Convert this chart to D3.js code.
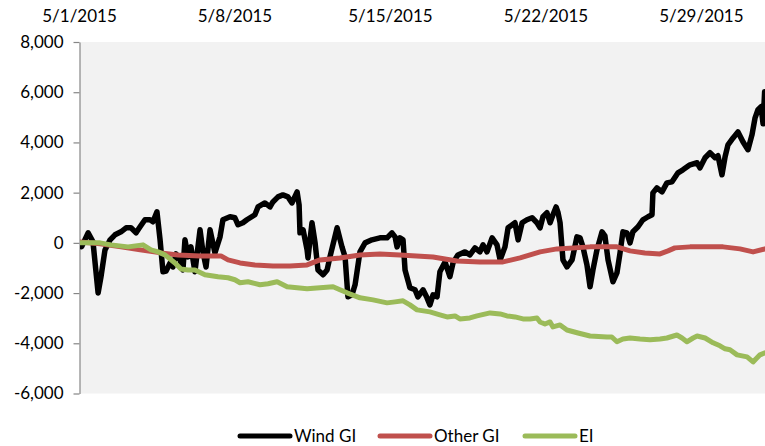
<!DOCTYPE html>
<html><head><meta charset="utf-8">
<script src="https://cdn.jsdelivr.net/npm/d3@7"></script>
<style>
body{margin:0;background:#fff;}
svg text{font-family:Lato,"Open Sans",sans-serif;}
</style></head>
<body><svg id="c" width="765" height="446"></svg>
<script>
// ---- data (days since 5/1/2015 00:00, MW) ----
const seriesNames = ["Wind GI","Other GI","EI"];
const dateTickLabels = ["5/1/2015","5/8/2015","5/15/2015","5/22/2015","5/29/2015"];
const dateTickDays = [0,7,14,21,28];
const yTickValues = [-6000,-4000,-2000,0,2000,4000,6000,8000];

const windDays = [0,0.12,0.41,0.63,0.86,0.99,1.17,1.40,1.62,1.89,2.12,2.34,2.57,2.75,2.97,3.20,3.33,3.51,3.65,3.78,3.92,4.10,4.23,4.37,4.55,4.68,4.77,4.91,5.04,5.22,5.45,5.58,5.72,5.90,6.12,6.35,6.48,6.80,7.02,7.16,7.38,7.56,7.92,8.06,8.37,8.60,8.73,8.96,9.18,9.41,9.59,9.82,9.91,9.95,10.09,10.27,10.31,10.49,10.63,10.76,10.99,11.17,11.30,11.62,11.84,11.98,12.11,12.29,12.43,12.65,12.88,13.19,13.55,13.87,14.09,14.23,14.32,14.45,14.59,14.68,14.90,15.13,15.26,15.49,15.67,15.80,15.94,16.12,16.25,16.48,16.70,16.84,17.06,17.38,17.60,17.83,18.05,18.19,18.37,18.60,18.82,18.96,19.18,19.32,19.63,19.77,19.95,20.17,20.40,20.62,20.76,20.89,21.07,21.21,21.34,21.48,21.57,21.66,21.79,21.97,22.20,22.42,22.56,22.69,22.87,23.01,23.14,23.32,23.55,23.68,23.82,24.04,24.22,24.36,24.49,24.67,24.81,24.94,25.17,25.39,25.62,25.80,25.84,26.02,26.25,26.47,26.70,26.97,27.19,27.51,27.83,27.96,28.19,28.41,28.64,28.77,28.95,29.09,29.22,29.45,29.67,29.90,30.12,30.30,30.44,30.57,30.71,30.80,30.87];
const windValues = [0,-150,400,40,-2000,-1350,-280,120,320,440,600,600,400,640,920,920,840,1240,120,-1150,-1120,-800,-960,-440,-680,-1080,120,-560,-160,-1150,520,-360,-960,520,-400,240,920,1040,1000,720,800,920,1120,1430,1590,1430,1630,1830,1910,1830,1590,2030,1510,400,520,-280,-600,800,0,-1080,-1270,-1080,-560,600,-160,-560,-2150,-2070,-1670,-360,0,120,200,200,400,240,-160,200,120,-1080,-1790,-1870,-2150,-1870,-2190,-2470,-2070,-2150,-1150,-760,-1350,-800,-480,-360,-480,-200,-360,-80,-360,200,-80,-680,-160,600,800,120,800,920,1000,800,600,1040,1200,800,1120,1430,1200,800,-680,-960,-680,240,200,-160,-880,-1750,-1080,-280,440,280,-680,-1550,-1200,-400,440,400,0,440,640,920,1040,1120,1990,2190,2030,2390,2430,2790,2910,3110,3190,2990,3390,3590,3390,3470,2710,3430,3900,4180,4420,4020,3710,4300,4980,5300,5420,4740,6020];

const otherDays = [0,0.95,1.89,2.75,3.69,4.46,5.45,6.39,6.71,7.25,7.92,8.73,9.50,10.27,10.85,11.75,12.65,13.55,14.45,15.94,17.02,18.05,19.09,19.86,20.76,21.52,23.01,24.22,24.81,25.48,26.16,26.52,26.83,27.51,29.0,29.76,30.35,30.89];
const otherValues = [40,-40,-160,-280,-400,-480,-520,-520,-680,-800,-880,-920,-920,-880,-680,-600,-480,-440,-480,-560,-720,-760,-760,-600,-360,-240,-160,-160,-320,-400,-440,-320,-200,-160,-160,-240,-360,-240];

const eiDays = [0,0.95,1.44,2.21,2.88,3.24,3.56,3.87,4.32,4.59,4.91,5.22,5.67,6.26,6.71,7.02,7.25,7.61,8.15,8.51,8.92,9.37,9.82,10.27,10.85,11.44,11.75,12.07,12.65,13.24,13.87,14.23,14.59,14.90,15.22,15.80,16.25,16.57,16.93,17.15,17.60,17.92,18.51,18.96,19.27,19.63,19.99,20.31,20.62,20.76,20.98,21.21,21.34,21.66,21.97,22.47,23.01,23.77,23.99,24.22,24.49,24.81,25.26,25.71,26.16,26.47,26.92,27.15,27.37,27.65,27.83,28.19,28.55,28.86,29.09,29.31,29.63,30.08,30.35,30.53,30.66,30.89];
const eiValues = [0,0,-80,-160,-80,-280,-360,-480,-800,-1040,-1080,-1080,-1270,-1350,-1390,-1470,-1590,-1550,-1670,-1630,-1550,-1750,-1790,-1830,-1790,-1750,-1870,-1990,-2190,-2270,-2390,-2350,-2310,-2470,-2670,-2750,-2870,-2950,-2910,-3030,-2990,-2910,-2790,-2830,-2910,-2950,-3030,-3030,-2990,-3150,-3230,-3150,-3350,-3270,-3470,-3590,-3710,-3750,-3750,-3940,-3830,-3790,-3830,-3860,-3830,-3790,-3670,-3790,-3940,-3790,-3710,-3790,-3980,-4100,-4220,-4260,-4460,-4540,-4740,-4580,-4460,-4380];

const seriesColors = ["#000000","#c0504d","#9bbb59"];

// ---- chart ----
const svg = d3.select("#c");
const plot = {left:80, right:765, top:42, bottom:393.5};
const start = new Date(2015,4,1);
const dayToDate = d => new Date(start.getTime() + d*86400000);

const x = d3.scaleTime().domain([start, dayToDate(31)]).range([79, 79 + 22.21*31]);
const y = d3.scaleLinear().domain([-6000, 8000]).range([plot.bottom, plot.top]);

svg.append("defs").append("clipPath").attr("id","clip")
  .append("rect").attr("x",plot.left).attr("y",plot.top-10).attr("width",plot.right-plot.left).attr("height",plot.bottom-plot.top+20);

svg.append("rect").attr("x",plot.left).attr("y",plot.top)
  .attr("width",plot.right-plot.left).attr("height",plot.bottom-plot.top).attr("fill","#f2f2f2");

// y axis
const fmt = d3.format(",");
const yAxis = svg.append("g").attr("transform","translate(79.5,0)")
  .call(d3.axisLeft(y).tickValues(yTickValues).tickSize(6).tickSizeOuter(0).tickPadding(10)
    .tickFormat(d => fmt(d).replace("\u2212","-")));
yAxis.select(".domain").attr("stroke","#868686").attr("stroke-width",1.2);
yAxis.selectAll(".tick line").attr("stroke","#868686").attr("stroke-width",1.2);
yAxis.selectAll(".tick text").attr("font-size",17).attr("fill","#000").attr("font-family","Lato");

// top date labels
const xAxis = svg.append("g").attr("transform","translate(0,28)")
  .call(d3.axisTop(x).tickValues(dateTickDays.map(dayToDate)).tickSize(0).tickPadding(6)
    .tickFormat((d,i)=>dateTickLabels[i]));
xAxis.select(".domain").remove();
xAxis.selectAll(".tick text").attr("font-size",17).attr("fill","#000").attr("font-family","Lato");

// lines
const line = d3.line().x(d=>x(dayToDate(d[0]))).y(d=>y(d[1])).curve(d3.curveLinear);
const seriesData = [
  d3.zip(windDays, windValues),
  d3.zip(otherDays, otherValues),
  d3.zip(eiDays, eiValues)
];
const widths = [5.5,5,5];
const g = svg.append("g").attr("clip-path","url(#clip)");
seriesData.forEach((data,i)=>{
  g.append("path").datum(data).attr("d",line)
    .attr("fill","none").attr("stroke",seriesColors[i]).attr("stroke-width",widths[i])
    .attr("stroke-linejoin","round").attr("stroke-linecap","round");
});

// legend
const legendX = [240,380,525];
const leg = svg.append("g");
seriesNames.forEach((name,i)=>{
  leg.append("line").attr("x1",legendX[i]).attr("x2",legendX[i]+50).attr("y1",436).attr("y2",436)
    .attr("stroke",seriesColors[i]).attr("stroke-width",5).attr("stroke-linecap","round");
  leg.append("text").attr("x",legendX[i]+54).attr("y",442).attr("font-size",17)
    .attr("fill","#000").text(name);
});
</script></body></html>
